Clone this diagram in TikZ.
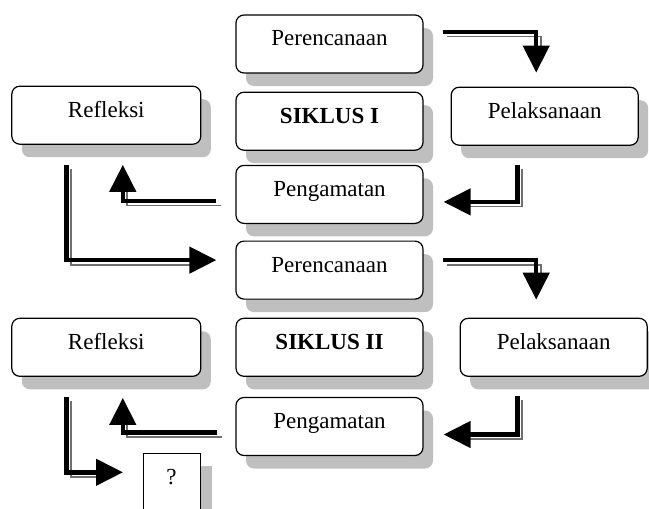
\documentclass[tikz,border=0pt]{standalone}
\usepackage{fontspec}
\setmainfont{Liberation Serif}
\usetikzlibrary{arrows.meta, positioning, shadows}
\definecolor{skShadow}{HTML}{BFBFBF}
\definecolor{skLine}{HTML}{6F6F6F}
\tikzset{
  skbox/.style={rectangle, rounded corners=8pt, draw=black, line width=1.2pt, fill=white,
                minimum width=187pt, minimum height=58pt, align=center,
                text height=0.68em, text depth=0.3em,
                drop shadow={shadow xshift=10pt, shadow yshift=-13pt, fill=skShadow, opacity=1}},
  skflow/.style={draw=black, line width=4.5pt, -{Triangle[length=27pt, width=26pt]},
                 preaction={draw=skLine, line width=1.8pt, arrows=-, shorten >=20pt,
                            transform canvas={xshift=4.5pt, yshift=-4.5pt}}},
}
\begin{document}
\begin{tikzpicture}[font=\fontsize{23}{27}\selectfont,
  qbox/.style={rectangle, draw=black, line width=0.8pt, fill=white,
               minimum width=57pt, minimum height=58pt, text height=0.68em, text depth=0.3em,
               drop shadow={shadow xshift=12pt, shadow yshift=-13pt, fill=skShadow, opacity=1}}]
  \clip (0,0) rectangle (649pt,-509pt);
  \node[skbox] (p1) at (329.5pt,-44pt) {Perencanaan};
  \node[skbox, below=18pt of p1] (s1) {\textbf{SIKLUS I}};
  \node[skbox, below=14pt of s1] (pg1) {Pengamatan};
  \node[skbox, minimum width=189pt, left=34pt of s1, yshift=6pt] (r1) {Refleksi};
  \node[skbox, right=27pt of s1, yshift=5pt] (pl1) {Pelaksanaan};
  \node[skbox, below=16.5pt of pg1] (p2) {Perencanaan};
  \node[skbox, below=18pt of p2] (s2) {\textbf{SIKLUS II}};
  \node[skbox, below=20pt of s2] (pg2) {Pengamatan};
  \node[skbox, minimum width=189pt, left=34pt of s2] (r2) {Refleksi};
  \node[skbox, right=36pt of s2] (pl2) {Pelaksanaan};
  \node[qbox, below=76pt of r2.south east, xshift=-30pt] (q) {?};
  \draw[skflow] ([xshift=19pt,yshift=12pt]p1.east) -| ([xshift=-8.5pt,yshift=14pt]pl1.north);
  \draw[skflow] ([xshift=-27pt,yshift=-19pt]pl1.south) |- ([xshift=20pt,yshift=-7.5pt]pg1.east);
  \draw[skflow] ([xshift=-19pt,yshift=-6.5pt]pg1.west) -| ([xshift=16.5pt,yshift=-20pt]r1.south);
  \draw[skflow] ([xshift=-40pt,yshift=-20pt]r1.south) |- ([xshift=-19pt,yshift=10pt]p2.west);
  \draw[skflow] ([xshift=19pt,yshift=10pt]p2.east) -| ([xshift=-17.5pt,yshift=18pt]pl2.north);
  \draw[skflow] ([xshift=-36pt,yshift=-19pt]pl2.south) |- ([xshift=20pt,yshift=-8pt]pg2.east);
  \draw[skflow] ([xshift=-18pt,yshift=-6pt]pg2.west) -| ([xshift=16.5pt,yshift=-21pt]r2.south);
  \draw[skflow] ([xshift=-40pt,yshift=-20pt]r2.south) |- ([xshift=-19.5pt,yshift=10pt]q.west);
\end{tikzpicture}
\end{document}
